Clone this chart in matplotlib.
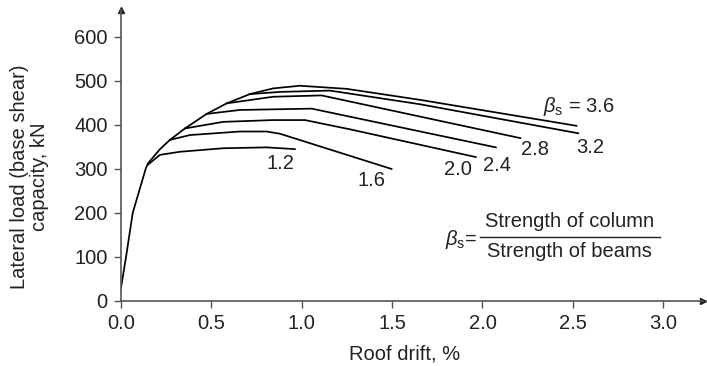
import matplotlib
matplotlib.use("Agg")
import matplotlib.pyplot as plt

plt.rcParams['font.family'] = ['Liberation Sans', 'DejaVu Sans']
plt.rcParams['mathtext.fontset'] = 'custom'
plt.rcParams['mathtext.it'] = 'Liberation Sans:italic'
plt.rcParams['mathtext.rm'] = 'Liberation Sans'

# envelope curve (beta_s = 3.6), including elastic branch
x36 = [0.0, 0.028, 0.065, 0.138, 0.15, 0.216, 0.271, 0.354, 0.474, 0.585, 0.713, 0.842, 0.99, 1.248, 1.654, 2.52]
y36 = [29, 100, 200, 302, 313, 345, 366, 392, 425, 449, 470, 483, 489, 482, 457, 398]
x32 = [0.713, 0.88, 1.156, 1.654, 2.53]
y32 = [470, 475, 478, 447, 381]
x28 = [0.585, 0.842, 1.11, 1.654, 2.21]
y28 = [449, 464, 467, 419, 370]
x24 = [0.474, 0.658, 1.055, 2.074]
y24 = [425, 434, 437, 349]
x20 = [0.354, 0.566, 0.842, 1.018, 1.267, 1.963]
y20 = [392, 407, 411, 411, 390, 327]
x16 = [0.271, 0.382, 0.658, 0.806, 0.879, 1.497]
y16 = [366, 377, 385, 385, 380, 300]
x12 = [0.15, 0.216, 0.326, 0.566, 0.806, 0.962]
y12 = [310, 332, 339, 347, 349, 345]

curve_labels = ["1.2", "1.6", "2.0", "2.4", "2.8", "3.2"]
label_x = [0.885, 1.387, 1.866, 2.078, 2.288, 2.598]
label_y = [312, 273, 298, 307, 344, 349]

xticks = [0.0, 0.5, 1.0, 1.5, 2.0, 2.5, 3.0]
yticks = [0, 100, 200, 300, 400, 500, 600]

FS = 14.5
TC = '#222222'

fig = plt.figure(figsize=(7.07, 3.66), dpi=100)
ax = fig.add_axes([0.1711, 0.1776, 0.8232, 0.795])

lw = 1.25
for xs, ys in [(x36, y36), (x32, y32), (x28, y28), (x24, y24), (x20, y20), (x16, y16), (x12, y12)]:
    ax.plot(xs, ys, color='black', lw=lw, solid_joinstyle='round')

for t, lx, ly in zip(curve_labels, label_x, label_y):
    ax.text(lx, ly, t, ha='center', va='center', fontsize=FS, color=TC)

ax.text(2.334, 442, r'$\mathit{\beta}_\mathrm{s}$' + ' = 3.6', ha='left', va='center',
        fontsize=FS, color=TC)

# formula annotation
ax.text(1.969, 139, r'$\mathit{\beta}_\mathrm{s}$' + '=', ha='right', va='center', fontsize=FS, color=TC)
ax.text(2.483, 180, 'Strength of column', ha='center', va='center', fontsize=FS, color=TC)
ax.text(2.483, 112, 'Strength of beams', ha='center', va='center', fontsize=FS, color=TC)
ax.plot([1.986, 2.98], [145, 145], color=TC, lw=1.0)

ax.set_xlim(0, 3.22)
ax.set_ylim(0, 661)
ax.set_xticks(xticks)
ax.set_xticklabels([f"{v:.1f}" for v in xticks])
ax.set_yticks(yticks)
ax.tick_params(direction='out', length=5, width=1.0, color='#555555', labelsize=FS, labelcolor=TC, pad=4.5)

for s in ['top', 'right']:
    ax.spines[s].set_visible(False)
for s in ['left', 'bottom']:
    ax.spines[s].set_color('#555555')
    ax.spines[s].set_linewidth(1.2)

ax.plot(1, 0, '>', color=TC, ms=5, transform=ax.transAxes, clip_on=False)
ax.plot(0, 1, '^', color=TC, ms=5, transform=ax.transAxes, clip_on=False)

W, H = 707, 366
fig.text(405 / W, 1 - 354 / H, 'Roof drift, %', ha='center', va='center', fontsize=FS, color=TC)
fig.text(29.5 / W, 1 - 177 / H, 'Lateral load (base shear)\ncapacity, kN', ha='center', va='center',
         rotation=90, fontsize=FS, color=TC, linespacing=1.05, multialignment='center')

fig.savefig('out.png', dpi=100)
